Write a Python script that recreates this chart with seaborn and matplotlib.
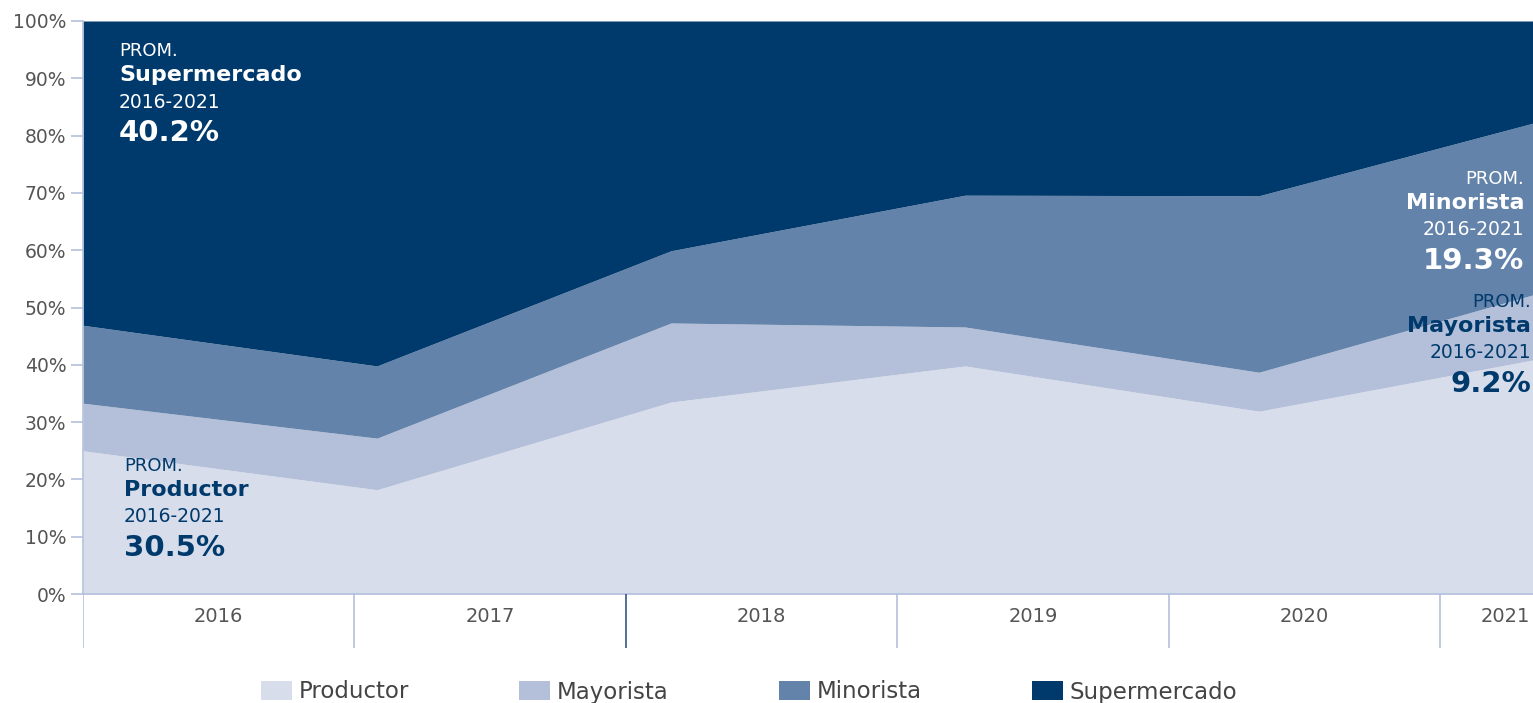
import numpy as np
import pandas as pd
import matplotlib.pyplot as plt
import seaborn as sns
from matplotlib.patches import Patch

# Data (shares in %)
years = ['2016', '2017', '2018', '2019', '2020', '2021']
productor = [25.0, 18.2, 33.5, 39.8, 31.9, 41.5]
mayorista = [8.3, 9.0, 13.8, 6.8, 6.8, 11.7]
minorista = [13.6, 12.6, 12.6, 23.0, 30.8, 29.9]
supermercado = [53.1, 60.2, 40.1, 30.4, 30.5, 16.9]
series_names = ['Productor', 'Mayorista', 'Minorista', 'Supermercado']

df = pd.DataFrame({'Productor': productor, 'Mayorista': mayorista,
                   'Minorista': minorista, 'Supermercado': supermercado},
                  index=years)

colors = sns.color_palette(['#d7ddea', '#b4c0d9', '#6383aa', '#003a6c'])
navy = '#003a6c'
grid_blue = '#b4c0dc'
gray_txt = '#555555'

sns.set_theme(style='white')
plt.rcParams['font.family'] = ['DejaVu Sans']

W, H = 1533, 703
fig = plt.figure(figsize=(W / 100, H / 100), dpi=100)
ax = fig.add_axes([83 / W, (H - 594) / H, 1450 / W, 573 / H])

x = np.arange(len(years))
ax.stackplot(x, df.T.values, colors=colors, linewidth=0)
ax.set_xlim(0, 1450 / 294)
ax.set_ylim(0, 100)

ax.set_yticks(range(0, 101, 10))
ax.set_yticklabels([f'{v}%' for v in range(0, 101, 10)], color=gray_txt, fontsize=13.5)
ax.tick_params(axis='y', length=9, width=1.2, color=grid_blue, pad=3, left=True)
ax.set_xticks([])
for s in ['top', 'right']:
    ax.spines[s].set_visible(False)
for s in ['left', 'bottom']:
    ax.spines[s].set_color(grid_blue)
    ax.spines[s].set_linewidth(1.2)

# category band below the plot
band = 271.4
ax2 = fig.add_axes([83 / W, (H - 648) / H, 1450 / W, 54 / H])
ax2.set_xlim(0, 1450 / band)
ax2.set_ylim(0, 1)
ax2.axis('off')
sep_colors = [grid_blue, grid_blue, '#3a5680', grid_blue, grid_blue, grid_blue]
ax2.vlines(range(len(years)), 0, 1, colors=sep_colors, linewidth=1.2)
label_pos = [0.5, 1.5, 2.5, 3.5, 4.5, 5.24]
for pos, yr in zip(label_pos, years):
    ax2.text(pos, 0.59, yr, ha='center', va='center', fontsize=14, color=gray_txt)


def note(px, py, lines, color, ha):
    for txt, dy, size, weight in lines:
        fig.text(px / W, 1 - (py + dy) / H, txt, ha=ha, va='center',
                 fontsize=size, fontweight=weight, color=color)


def block(name, value):
    return [('PROM.', 0, 13, 'normal'), (name, 24, 16, 'bold'),
            ('2016-2021', 51, 13.5, 'normal'), (value, 82, 21, 'bold')]


note(119, 51, block('Supermercado', '40.2%'), 'white', 'left')
note(124, 466, block('Productor', '30.5%'), navy, 'left')
note(1524, 179, block('Minorista', '19.3%'), 'white', 'right')
note(1531, 302, block('Mayorista', '9.2%'), navy, 'right')

handles = [Patch(facecolor=c, edgecolor='none') for c in colors]
fig.legend(handles, series_names, loc='center', bbox_to_anchor=(0.4886, 1 - 692 / H),
           ncol=4, frameon=False, fontsize=16.5, labelcolor='#444444',
           handlelength=1.35, handleheight=0.85, handletextpad=0.3, columnspacing=4.8)

fig.savefig('out.png', dpi=100)
